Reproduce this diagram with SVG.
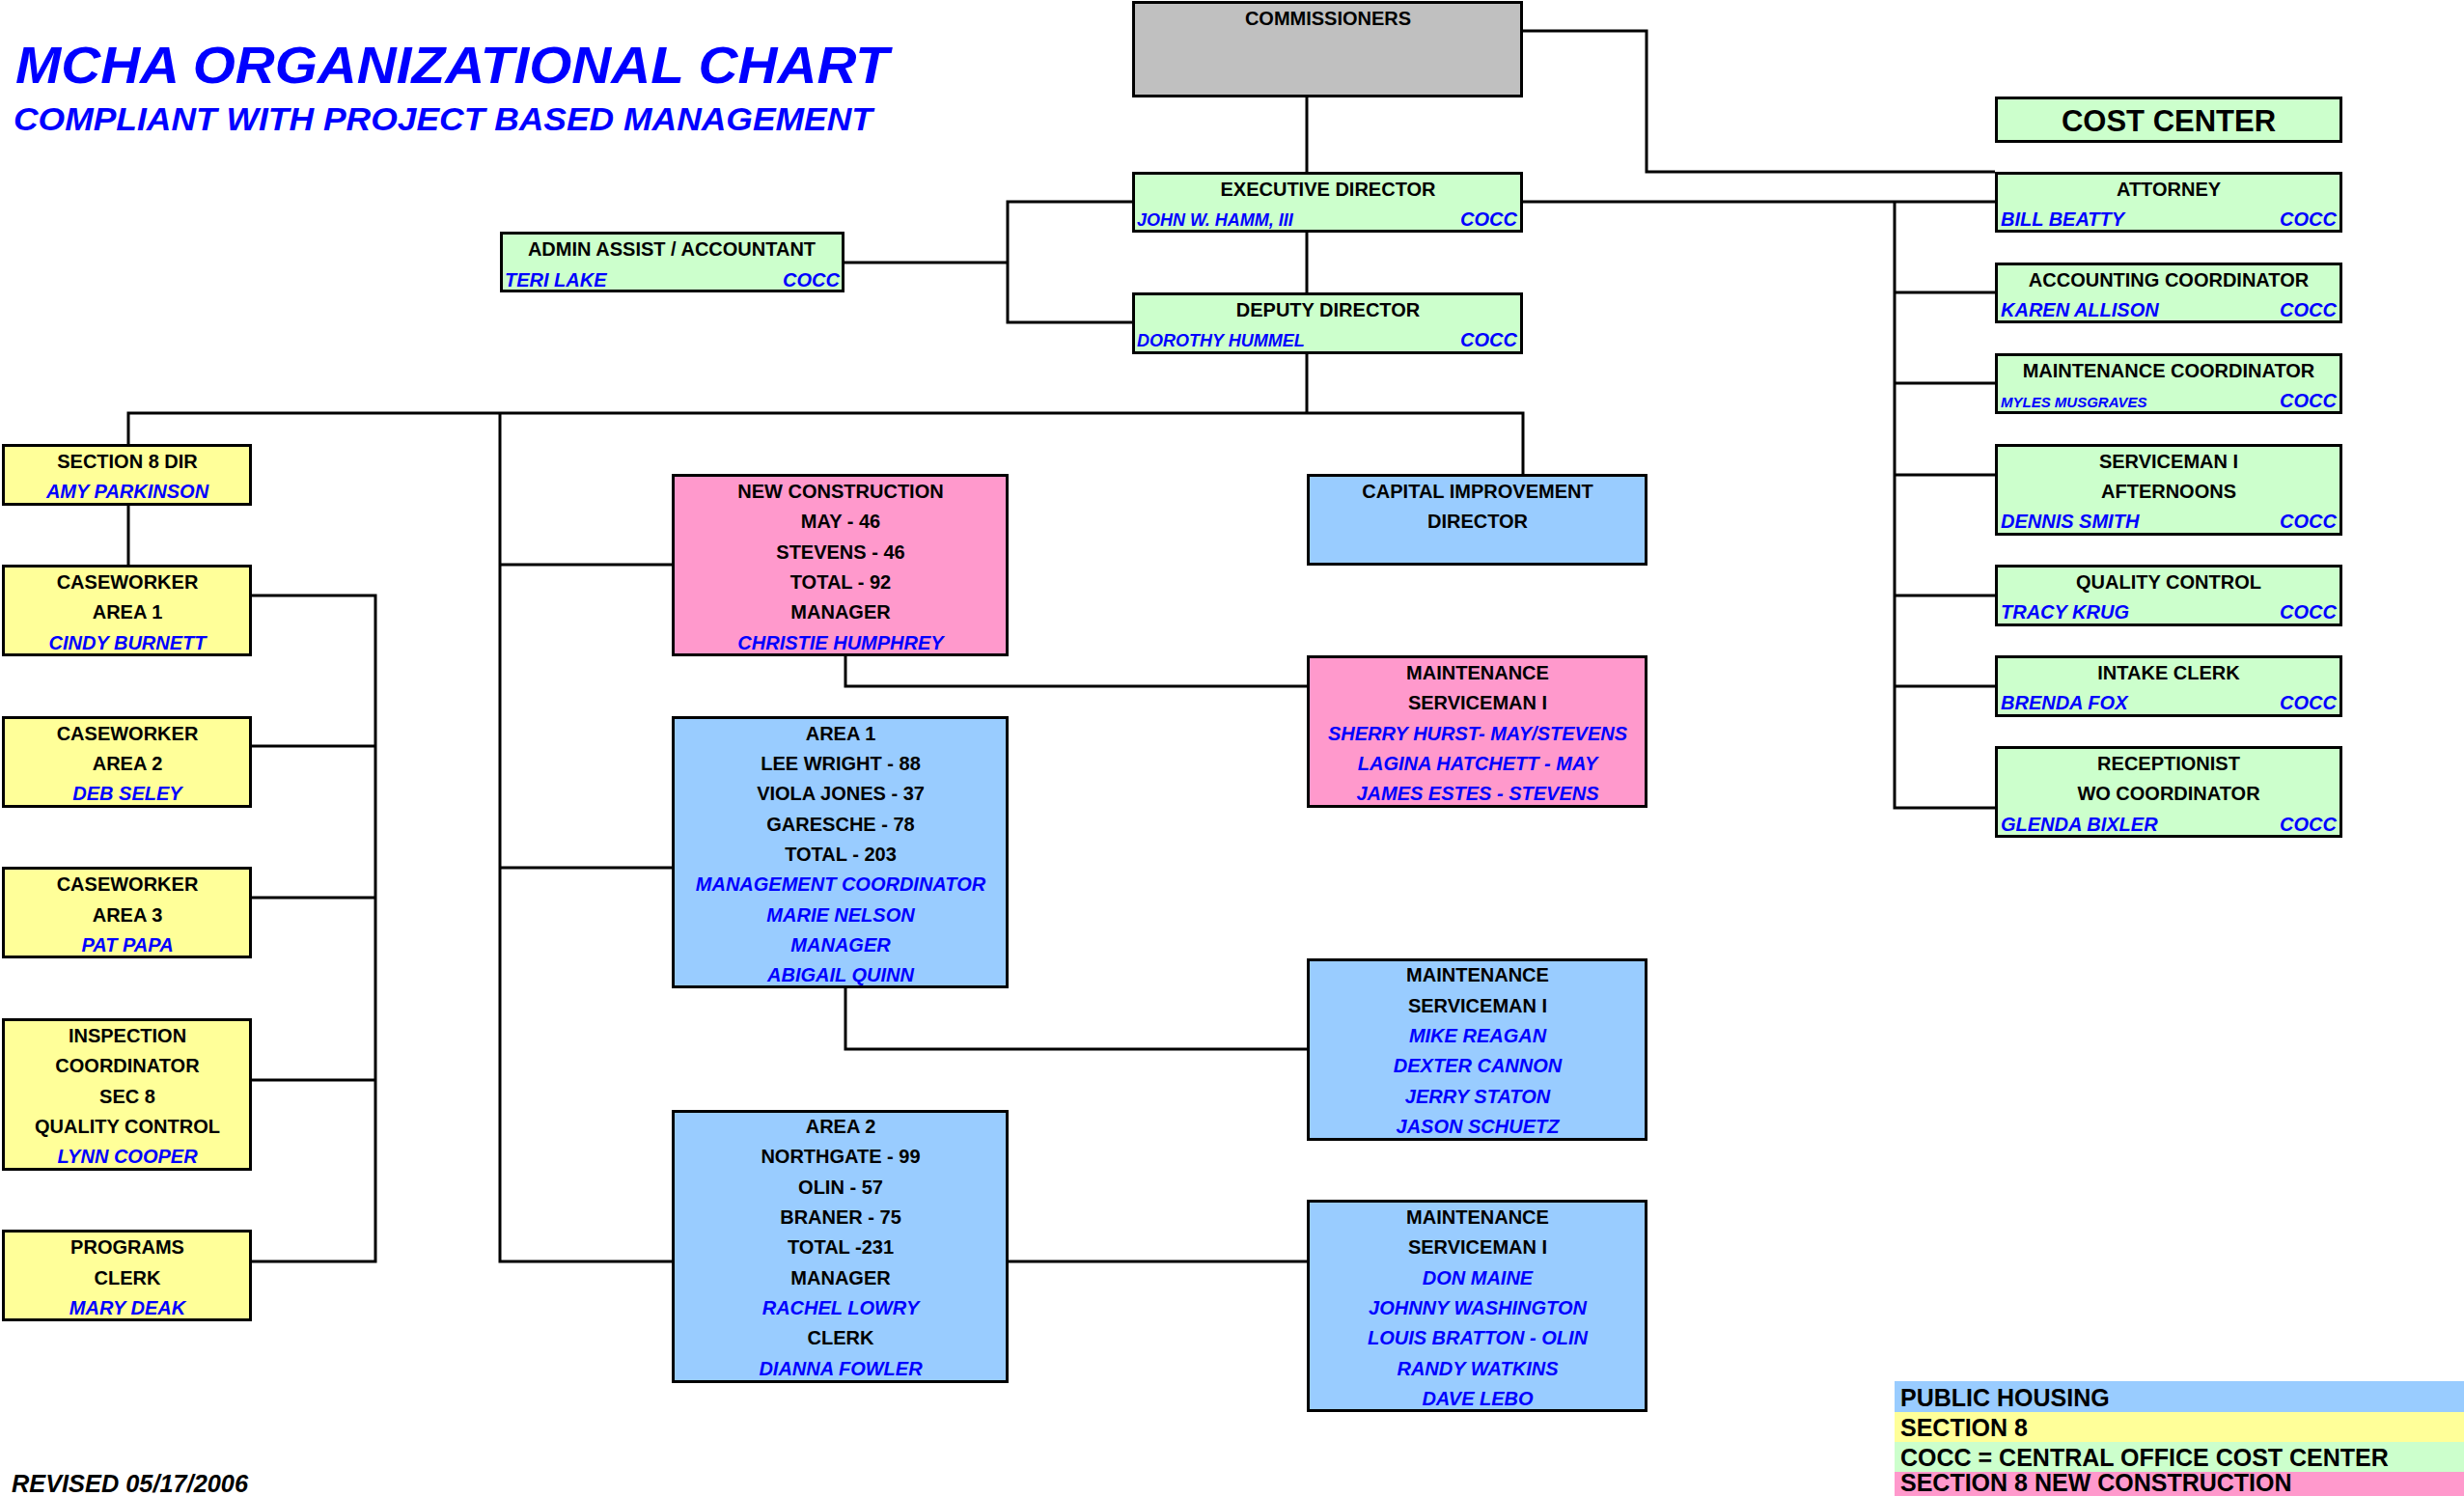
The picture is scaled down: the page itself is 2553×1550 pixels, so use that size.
<svg xmlns="http://www.w3.org/2000/svg" width="2553" height="1550" viewBox="0 0 2553 1550">
<style>
rect.bx{stroke:#000;stroke-width:3}
.gray{fill:#C0C0C0}.grn{fill:#CCFFCC}.yel{fill:#FFFF99}.pnk{fill:#FF99CC}.blu{fill:#99CCFF}
text{font-family:"Liberation Sans",Arial,sans-serif;font-weight:bold;font-size:20px}
.t{fill:#000;text-anchor:middle}
.n{fill:#0000FF;font-style:italic;text-anchor:middle}
.nl{fill:#0000FF;font-style:italic;text-anchor:start}
.nr{fill:#0000FF;font-style:italic;text-anchor:end}
.s18{font-size:18px}
#connectors path{fill:none;stroke:#000;stroke-width:3}
.leg{fill:#000;font-size:25px;text-anchor:start}
</style>
<rect width="2553" height="1550" fill="#fff"/>
<text x="16" y="86" style="font-size:54px;font-style:italic;fill:#0000FF" textLength="905" lengthAdjust="spacingAndGlyphs">MCHA ORGANIZATIONAL CHART</text>
<text x="14" y="135" style="font-size:34px;font-style:italic;fill:#0000FF" textLength="890" lengthAdjust="spacingAndGlyphs">COMPLIANT WITH PROJECT BASED MANAGEMENT</text>
<text x="12" y="1546" style="font-size:25px;font-style:italic;fill:#000" textLength="245" lengthAdjust="spacingAndGlyphs">REVISED 05/17/2006</text>

<g id="connectors">
<path d="M1354,101 V178 M1354,241 V303 M1354,367 V428"/>
<path d="M1578,32 H1706 V178 H2067"/>
<path d="M1578,209 H2067"/>
<path d="M1963,209 V837 H2067 M1963,303 H2067 M1963,397 H2067 M1963,492 H2067 M1963,617 H2067 M1963,711 H2067"/>
<path d="M1173,209 H1044 V334 H1173 M875,272 H1044"/>
<path d="M133,460 V428 H1578 V491"/>
<path d="M133,524 V585"/>
<path d="M261,617 H389 V1307 H261 M261,773 H389 M261,930 H389 M261,1119 H389"/>
<path d="M518,428 V1307 H696 M518,585 H696 M518,899 H696"/>
<path d="M876,680 V711 H1354"/>
<path d="M876,1024 V1087 H1354"/>
<path d="M1045,1307 H1354"/>
</g>

<g id="commissioners"><rect class="bx gray" x="1174.5" y="2.5" width="402" height="97"/><text class="t" x="1376" y="26">COMMISSIONERS</text></g>
<g id="exec"><rect class="bx grn" x="1174.5" y="179.5" width="402" height="60"/><text class="t" x="1376" y="203">EXECUTIVE DIRECTOR</text><text class="nl s18" x="1178" y="234">JOHN W. HAMM, III</text><text class="nr" x="1572" y="234">COCC</text></g>
<g id="deputy"><rect class="bx grn" x="1174.5" y="304.5" width="402" height="61"/><text class="t" x="1376" y="328">DEPUTY DIRECTOR</text><text class="nl s18" x="1178" y="359">DOROTHY HUMMEL</text><text class="nr" x="1572" y="359">COCC</text></g>
<g id="admin"><rect class="bx grn" x="519.5" y="241.5" width="354" height="60"/><text class="t" x="696" y="265">ADMIN ASSIST / ACCOUNTANT</text><text class="nl" x="523" y="297">TERI LAKE</text><text class="nr" x="870" y="297">COCC</text></g>

<g id="costcenter"><rect class="bx grn" x="2068.5" y="101.5" width="357" height="45"/><text class="t" x="2247" y="136" style="font-size:31px">COST CENTER</text></g>
<g id="attorney"><rect class="bx grn" x="2068.5" y="179.5" width="357" height="60"/><text class="t" x="2247" y="203">ATTORNEY</text><text class="nl" x="2073" y="234">BILL BEATTY</text><text class="nr" x="2421" y="234">COCC</text></g>
<g id="accounting"><rect class="bx grn" x="2068.5" y="273.5" width="357" height="60"/><text class="t" x="2247" y="297">ACCOUNTING COORDINATOR</text><text class="nl" x="2073" y="328">KAREN ALLISON</text><text class="nr" x="2421" y="328">COCC</text></g>
<g id="maintcoord"><rect class="bx grn" x="2068.5" y="367.5" width="357" height="60"/><text class="t" x="2247" y="391">MAINTENANCE COORDINATOR</text><text class="nl" x="2073" y="422" style="font-size:15px">MYLES MUSGRAVES</text><text class="nr" x="2421" y="422">COCC</text></g>
<g id="serviceman"><rect class="bx grn" x="2068.5" y="461.5" width="357" height="92"/><text class="t" x="2247" y="485">SERVICEMAN I</text><text class="t" x="2247" y="516">AFTERNOONS</text><text class="nl" x="2073" y="547">DENNIS SMITH</text><text class="nr" x="2421" y="547">COCC</text></g>
<g id="quality"><rect class="bx grn" x="2068.5" y="586.5" width="357" height="61"/><text class="t" x="2247" y="610">QUALITY CONTROL</text><text class="nl" x="2073" y="641">TRACY KRUG</text><text class="nr" x="2421" y="641">COCC</text></g>
<g id="intake"><rect class="bx grn" x="2068.5" y="680.5" width="357" height="61"/><text class="t" x="2247" y="704">INTAKE CLERK</text><text class="nl" x="2073" y="735">BRENDA FOX</text><text class="nr" x="2421" y="735">COCC</text></g>
<g id="receptionist"><rect class="bx grn" x="2068.5" y="774.5" width="357" height="92"/><text class="t" x="2247" y="798">RECEPTIONIST</text><text class="t" x="2247" y="829">WO COORDINATOR</text><text class="nl" x="2073" y="861">GLENDA BIXLER</text><text class="nr" x="2421" y="861">COCC</text></g>

<g id="sec8dir"><rect class="bx yel" x="3.5" y="461.5" width="256" height="61"/><text class="t" x="132" y="485">SECTION 8 DIR</text><text class="n" x="132" y="516">AMY PARKINSON</text></g>
<g id="cw1"><rect class="bx yel" x="3.5" y="586.5" width="256" height="92"/><text class="t" x="132" y="610">CASEWORKER</text><text class="t" x="132" y="641">AREA 1</text><text class="n" x="132" y="673">CINDY BURNETT</text></g>
<g id="cw2"><rect class="bx yel" x="3.5" y="743.5" width="256" height="92"/><text class="t" x="132" y="767">CASEWORKER</text><text class="t" x="132" y="798">AREA 2</text><text class="n" x="132" y="829">DEB SELEY</text></g>
<g id="cw3"><rect class="bx yel" x="3.5" y="899.5" width="256" height="92"/><text class="t" x="132" y="923">CASEWORKER</text><text class="t" x="132" y="955">AREA 3</text><text class="n" x="132" y="986">PAT PAPA</text></g>
<g id="inspection"><rect class="bx yel" x="3.5" y="1056.5" width="256" height="155"/><text class="t" x="132" y="1080">INSPECTION</text><text class="t" x="132" y="1111">COORDINATOR</text><text class="t" x="132" y="1143">SEC 8</text><text class="t" x="132" y="1174">QUALITY CONTROL</text><text class="n" x="132" y="1205">LYNN COOPER</text></g>
<g id="programs"><rect class="bx yel" x="3.5" y="1275.5" width="256" height="92"/><text class="t" x="132" y="1299">PROGRAMS</text><text class="t" x="132" y="1331">CLERK</text><text class="n" x="132" y="1362">MARY DEAK</text></g>

<g id="newconstruction"><rect class="bx pnk" x="697.5" y="492.5" width="346" height="186"/><text class="t" x="871" y="516">NEW CONSTRUCTION</text><text class="t" x="871" y="547">MAY - 46</text><text class="t" x="871" y="579">STEVENS - 46</text><text class="t" x="871" y="610">TOTAL - 92</text><text class="t" x="871" y="641">MANAGER</text><text class="n" x="871" y="673">CHRISTIE HUMPHREY</text></g>
<g id="capital"><rect class="bx blu" x="1355.5" y="492.5" width="350" height="92"/><text class="t" x="1531" y="516">CAPITAL IMPROVEMENT</text><text class="t" x="1531" y="547">DIRECTOR</text></g>
<g id="maintpink"><rect class="bx pnk" x="1355.5" y="680.5" width="350" height="155"/><text class="t" x="1531" y="704">MAINTENANCE</text><text class="t" x="1531" y="735">SERVICEMAN I</text><text class="n" x="1531" y="767">SHERRY HURST- MAY/STEVENS</text><text class="n" x="1531" y="798">LAGINA HATCHETT - MAY</text><text class="n" x="1531" y="829">JAMES ESTES - STEVENS</text></g>
<g id="area1"><rect class="bx blu" x="697.5" y="743.5" width="346" height="279"/><text class="t" x="871" y="767">AREA 1</text><text class="t" x="871" y="798">LEE WRIGHT - 88</text><text class="t" x="871" y="829">VIOLA JONES - 37</text><text class="t" x="871" y="861">GARESCHE - 78</text><text class="t" x="871" y="892">TOTAL - 203</text><text class="n" x="871" y="923">MANAGEMENT COORDINATOR</text><text class="n" x="871" y="955">MARIE NELSON</text><text class="n" x="871" y="986">MANAGER</text><text class="n" x="871" y="1017">ABIGAIL QUINN</text></g>
<g id="maint2"><rect class="bx blu" x="1355.5" y="994.5" width="350" height="186"/><text class="t" x="1531" y="1017">MAINTENANCE</text><text class="t" x="1531" y="1049">SERVICEMAN I</text><text class="n" x="1531" y="1080">MIKE REAGAN</text><text class="n" x="1531" y="1111">DEXTER CANNON</text><text class="n" x="1531" y="1143">JERRY STATON</text><text class="n" x="1531" y="1174">JASON SCHUETZ</text></g>
<g id="area2"><rect class="bx blu" x="697.5" y="1151.5" width="346" height="280"/><text class="t" x="871" y="1174">AREA 2</text><text class="t" x="871" y="1205">NORTHGATE - 99</text><text class="t" x="871" y="1237">OLIN - 57</text><text class="t" x="871" y="1268">BRANER - 75</text><text class="t" x="871" y="1299">TOTAL -231</text><text class="t" x="871" y="1331">MANAGER</text><text class="n" x="871" y="1362">RACHEL LOWRY</text><text class="t" x="871" y="1393">CLERK</text><text class="n" x="871" y="1425">DIANNA FOWLER</text></g>
<g id="maint3"><rect class="bx blu" x="1355.5" y="1244.5" width="350" height="217"/><text class="t" x="1531" y="1268">MAINTENANCE</text><text class="t" x="1531" y="1299">SERVICEMAN I</text><text class="n" x="1531" y="1331">DON MAINE</text><text class="n" x="1531" y="1362">JOHNNY WASHINGTON</text><text class="n" x="1531" y="1393">LOUIS BRATTON - OLIN</text><text class="n" x="1531" y="1425">RANDY WATKINS</text><text class="n" x="1531" y="1456">DAVE LEBO</text></g>

<g id="legend">
<rect x="1963" y="1431" width="590" height="32" class="blu"/>
<rect x="1963" y="1463" width="590" height="31" class="yel"/>
<rect x="1963" y="1494" width="590" height="31" class="grn"/>
<rect x="1963" y="1525" width="590" height="25" class="pnk"/>
<text class="leg" x="1969" y="1457">PUBLIC HOUSING</text>
<text class="leg" x="1969" y="1488">SECTION 8</text>
<text class="leg" x="1969" y="1519">COCC = CENTRAL OFFICE COST CENTER</text>
<text class="leg" x="1969" y="1545">SECTION 8 NEW CONSTRUCTION</text>
</g>
</svg>
